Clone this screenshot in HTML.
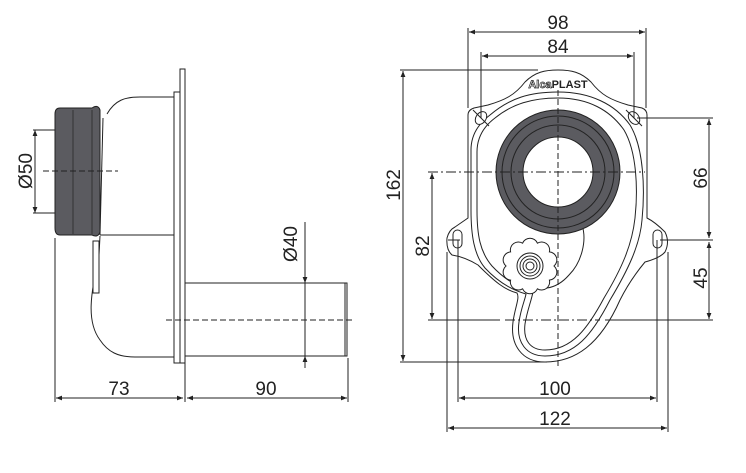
<!DOCTYPE html>
<html><head><style>html,body{margin:0;padding:0;background:#fff;}svg{display:block}</style></head>
<body>
<svg width="746" height="473" viewBox="0 0 746 473" xmlns="http://www.w3.org/2000/svg" font-family="Liberation Sans, sans-serif">
<defs>
<marker id="a" viewBox="0 0 10 10" refX="10" refY="5" markerWidth="8" markerHeight="6" orient="auto-start-reverse"><path d="M0,1 L10,5 L0,9 z" fill="#222"/></marker>
</defs>
<g stroke="#222" stroke-width="1" fill="none">
<!-- LEFT VIEW -->
<rect x="180" y="69" width="5" height="294" fill="#fff"/>
<rect x="174" y="92" width="6" height="271" fill="#fff"/>
<path d="M107,114 C115,100 125,97 140,97 L174,97"/>
<path d="M103,118 L100,235"/>
<line x1="100" y1="235" x2="174" y2="235"/>
<path d="M100,236 L99,255 C92,290 85,320 100,340 C108,352 118,357 135,357 L174,357"/>
<rect x="93" y="241" width="6" height="52" fill="#fff"/>
<path d="M60,108 L92,108 Q98,104 100,110 L100,232 Q98,238 92,235 L60,235 Q55,235 55,228 L55,114 Q55,108 60,108 Z" fill="#5b5b60"/>
<line x1="73" y1="110" x2="73" y2="234" stroke="#333"/>
<line x1="92" y1="110" x2="92" y2="234" stroke="#333"/>
<rect x="185" y="283" width="162" height="73" fill="#fff"/>
<line x1="345" y1="283" x2="345" y2="356"/>
<line x1="166" y1="320" x2="352" y2="320" stroke-dasharray="6,3"/>
<line x1="43" y1="171" x2="118" y2="171" stroke-dasharray="6,3"/>
<line x1="35" y1="130" x2="35" y2="213" marker-start="url(#a)" marker-end="url(#a)"/>
<line x1="33" y1="130" x2="55" y2="130"/><line x1="33" y1="213" x2="55" y2="213"/>
<line x1="305" y1="222" x2="305" y2="283" marker-end="url(#a)"/>
<line x1="305" y1="283" x2="305" y2="356"/>
<line x1="305" y1="368" x2="305" y2="356" marker-end="url(#a)"/>
<line x1="55" y1="238" x2="55" y2="402"/><line x1="185" y1="360" x2="185" y2="402"/><line x1="348" y1="358" x2="348" y2="402"/>
<line x1="56" y1="398" x2="183" y2="398" marker-start="url(#a)" marker-end="url(#a)"/>
<line x1="187" y1="398" x2="347" y2="398" marker-start="url(#a)" marker-end="url(#a)"/>

<!-- RIGHT VIEW -->
<path d="M474,108 L488,105 C505,100 515,95 525,82 C535,72 545,70 558,70 C571,70 581,72 591,82 C601,95 611,100 628,105 L642,108 Q647,110 647,115 L647,218 Q655,222 665,232 Q670,242 665,252 Q660,258 645,262 Q630,280 620,300 C600,345 575,362 545,362 C522,362 510,345 513,322 C515,307 520,298 517,293 C505,290 495,282 478,265 Q465,257 452,255 Q446,250 447,238 Q449,230 455,227 L468,218 L468,115 Q468,110 474,108 Z" fill="#fff"/>
<path d="M490,115 C510,98 530,92 558,92 C590,92 615,104 630,125 C644,148 645,190 642,220 C640,245 628,270 610,300 C592,335 575,356 545,356 C526,356 516,342 519,322 C521,308 525,300 526,294 C512,290 498,282 485,268 C474,255 471,235 471,210 L471,150 C471,135 478,124 490,115 Z"/>
<path d="M495,118 C512,104 532,98 558,98 C588,98 610,110 624,130 C637,152 638,190 635,218 C632,245 622,268 604,298 C588,328 572,350 545,350 C530,350 523,340 525,324 C527,311 531,302 533,292 C520,288 505,280 492,266 C480,252 477,235 477,210 L477,152 C477,138 483,127 495,118 Z"/>
<path d="M582,225 C587,240 582,262 569,275 C562,283 554,287 547,288"/>
<circle cx="558" cy="172" r="62" fill="#5b5b60"/>
<circle cx="558" cy="172" r="56" stroke="#222"/>
<circle cx="558" cy="172" r="47" stroke="#222"/>
<circle cx="558" cy="172" r="35" fill="#fff"/>
<path d="M554,266 A8,8 0 0 1 549.4,280.1 A8,8 0 0 1 537.4,288.8 A8,8 0 0 1 522.6,288.8 A8,8 0 0 1 510.6,280.1 A8,8 0 0 1 506,266 A8,8 0 0 1 510.6,251.9 A8,8 0 0 1 522.6,243.2 A8,8 0 0 1 537.4,243.2 A8,8 0 0 1 549.4,251.9 A8,8 0 0 1 554,266 Z" fill="#fff"/>
<circle cx="530" cy="266" r="13"/><circle cx="530" cy="266" r="10"/><circle cx="530" cy="266" r="7"/><circle cx="530" cy="266" r="4"/>
<ellipse cx="481" cy="118" rx="5" ry="7" transform="rotate(35 481 118)" fill="#fff"/>
<ellipse cx="634" cy="118" rx="5" ry="7" transform="rotate(-35 634 118)" fill="#fff"/>
<line x1="473" y1="110" x2="489" y2="126"/><line x1="626" y1="110" x2="642" y2="126"/>
<rect x="453" y="230" width="9" height="18" rx="4.5" fill="#fff"/>
<rect x="653" y="230" width="9" height="18" rx="4.5" fill="#fff"/>
<line x1="558" y1="90" x2="558" y2="368" stroke-dasharray="6,3"/>
<line x1="428" y1="172" x2="645" y2="172" stroke-dasharray="10,3,2,3"/>
<line x1="428" y1="320" x2="500" y2="320"/><line x1="505" y1="320" x2="600" y2="320" stroke-dasharray="10,3,2,3"/><line x1="605" y1="320" x2="713" y2="320"/>
<line x1="448" y1="240" x2="460" y2="240"/>
<!-- dims -->
<line x1="468" y1="28" x2="468" y2="108"/><line x1="646" y1="28" x2="646" y2="108"/>
<line x1="469" y1="32" x2="645" y2="32" marker-start="url(#a)" marker-end="url(#a)"/>
<line x1="481" y1="52" x2="481" y2="118"/><line x1="634" y1="52" x2="634" y2="118"/>
<line x1="482" y1="56" x2="633" y2="56" marker-start="url(#a)" marker-end="url(#a)"/>
<line x1="400" y1="70" x2="538" y2="70"/><line x1="400" y1="362" x2="547" y2="362"/>
<line x1="403" y1="71" x2="403" y2="361" marker-start="url(#a)" marker-end="url(#a)"/>
<line x1="432" y1="173" x2="432" y2="319" marker-start="url(#a)" marker-end="url(#a)"/>
<line x1="637" y1="118" x2="713" y2="118"/><line x1="660" y1="240" x2="713" y2="240"/>
<line x1="709" y1="119" x2="709" y2="238" marker-start="url(#a)" marker-end="url(#a)"/>
<line x1="709" y1="242" x2="709" y2="319" marker-start="url(#a)" marker-end="url(#a)"/>
<line x1="458" y1="240" x2="458" y2="402"/><line x1="657" y1="240" x2="657" y2="402"/>
<line x1="459" y1="398" x2="656" y2="398" marker-start="url(#a)" marker-end="url(#a)"/>
<line x1="447" y1="252" x2="447" y2="432"/><line x1="668" y1="252" x2="668" y2="432"/>
<line x1="448" y1="428" x2="667" y2="428" marker-start="url(#a)" marker-end="url(#a)"/>
</g>
<g fill="#222" font-size="19" text-anchor="middle">
<text x="558" y="29">98</text>
<text x="558" y="53">84</text>
<text x="555" y="395">100</text>
<text x="555" y="425">122</text>
<text x="119" y="395">73</text>
<text x="266" y="395">90</text>
<text transform="translate(400,185) rotate(-90)">162</text>
<text transform="translate(429,246) rotate(-90)">82</text>
<text transform="translate(707,178) rotate(-90)">66</text>
<text transform="translate(707,278) rotate(-90)">45</text>
<text transform="translate(32,171) rotate(-90)">Ø50</text>
<text transform="translate(297,244) rotate(-90)">Ø40</text>
<text x="558" y="88" font-size="11" font-weight="bold"><tspan fill="#fff" stroke="#222" stroke-width="0.7">Alca</tspan>PLAST</text>
</g>
</svg>
</body></html>
